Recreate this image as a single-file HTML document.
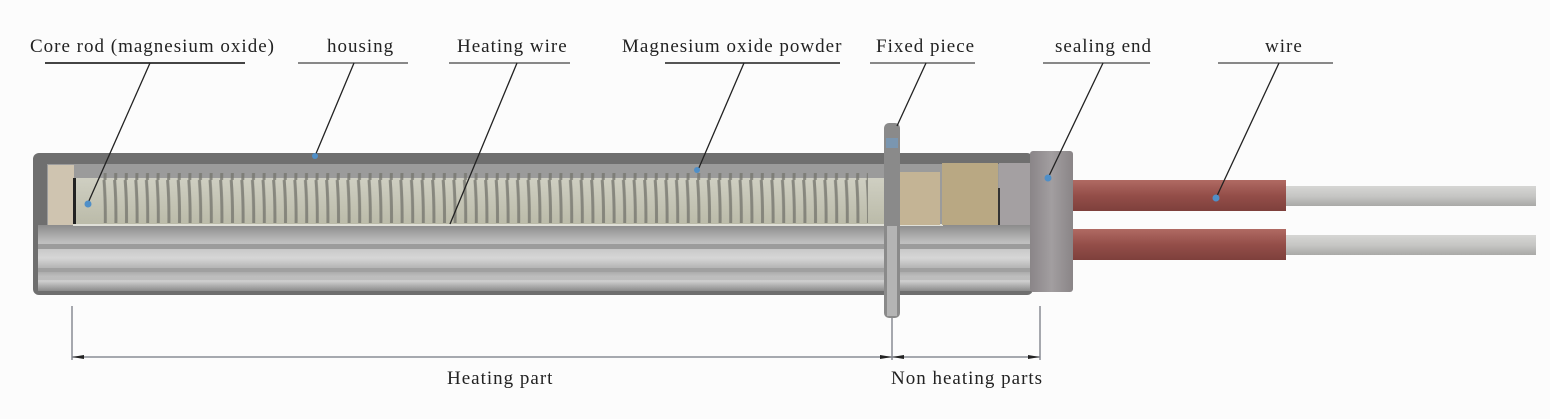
<!DOCTYPE html>
<html><head><meta charset="utf-8"><style>
html,body{margin:0;padding:0;background:#fcfcfc;}
svg{display:block}
text{font-family:"Liberation Serif",serif;font-size:19px;letter-spacing:1px;fill:#222;}
</style></head><body>
<svg width="1550" height="419" viewBox="0 0 1550 419" xmlns="http://www.w3.org/2000/svg">
<defs>
<linearGradient id="tube" x1="0" y1="0" x2="0" y2="1">
<stop offset="0" stop-color="#8c8c8c"/><stop offset="0.25" stop-color="#bdbdbd"/><stop offset="0.5" stop-color="#d6d6d6"/><stop offset="0.7" stop-color="#a9a9a9"/><stop offset="0.85" stop-color="#cfcfcf"/><stop offset="1" stop-color="#8a8a8a"/>
</linearGradient>
<linearGradient id="seal" x1="0" y1="0" x2="1" y2="0">
<stop offset="0" stop-color="#8a8588"/><stop offset="0.5" stop-color="#a29ea0"/><stop offset="1" stop-color="#8a8587"/>
</linearGradient>
<linearGradient id="red" x1="0" y1="0" x2="0" y2="1">
<stop offset="0" stop-color="#b06a63"/><stop offset="0.5" stop-color="#944e49"/><stop offset="1" stop-color="#7e403c"/>
</linearGradient>
<linearGradient id="gw" x1="0" y1="0" x2="0" y2="1">
<stop offset="0" stop-color="#d6d6d4"/><stop offset="0.5" stop-color="#c6c6c4"/><stop offset="1" stop-color="#a9a9a7"/>
</linearGradient>
<linearGradient id="core" x1="0" y1="0" x2="0" y2="1">
<stop offset="0" stop-color="#cfcfc2"/><stop offset="1" stop-color="#babaa8"/>
</linearGradient>
<pattern id="coil" x="100" y="0" width="10.6" height="60" patternUnits="userSpaceOnUse">
<path d="M4 0 Q6 25 5 60" stroke="#77776f" stroke-width="3" fill="none" opacity="0.8"/>
</pattern>
</defs>

<rect x="33" y="153" width="1000" height="142" rx="6" fill="#6f6f6f"/>
<rect x="38" y="225" width="994" height="66" fill="url(#tube)"/>
<rect x="38" y="244" width="994" height="5" fill="#9c9c9c"/>
<rect x="38" y="268" width="994" height="4" fill="#a0a0a0"/>
<rect x="38" y="277" width="994" height="3" fill="#bdbdbd"/>
<rect x="47" y="164" width="983" height="61" fill="#9b9b9b"/>
<rect x="48" y="165" width="26" height="60" fill="#cfc4b0"/>
<rect x="73" y="178" width="830" height="48" fill="url(#core)"/>
<rect x="73" y="178" width="3" height="48" fill="#222"/>
<rect x="98" y="173" width="770" height="50" fill="url(#coil)"/>
<rect x="73" y="224" width="870" height="2" fill="#e0e0d8"/>
<rect x="900" y="172" width="40" height="53" fill="#c4b495"/>
<rect x="942" y="163" width="56" height="62" fill="#b9a883"/>
<rect x="999" y="163" width="31" height="62" fill="#a4a0a2"/>
<rect x="998" y="188" width="2" height="37" fill="#333"/>
<rect x="884" y="123" width="16" height="195" rx="5" fill="#8a8a8a"/>
<rect x="887" y="226" width="10" height="90" fill="#b4b4b4"/>
<rect x="886" y="138" width="12" height="10" fill="#7a96b0"/>
<rect x="1030" y="151" width="43" height="141" rx="3" fill="url(#seal)"/>
<rect x="1286" y="186" width="250" height="20" fill="url(#gw)"/>
<rect x="1286" y="235" width="250" height="20" fill="url(#gw)"/>
<rect x="1073" y="180" width="213" height="31" fill="url(#red)"/>
<rect x="1073" y="229" width="213" height="31" fill="url(#red)"/>

<text x="30" y="52">Core rod (magnesium oxide)</text>
<text x="327" y="52">housing</text>
<text x="457" y="52">Heating wire</text>
<text x="622" y="52">Magnesium oxide powder</text>
<text x="876" y="52">Fixed piece</text>
<text x="1055" y="52">sealing end</text>
<text x="1265" y="52">wire</text>
<g stroke-width="2">
<line x1="45" y1="63" x2="245" y2="63" stroke="#444"/>
<line x1="298" y1="63" x2="408" y2="63" stroke="#888"/>
<line x1="449" y1="63" x2="570" y2="63" stroke="#888"/>
<line x1="665" y1="63" x2="840" y2="63" stroke="#555"/>
<line x1="870" y1="63" x2="975" y2="63" stroke="#888"/>
<line x1="1043" y1="63" x2="1150" y2="63" stroke="#888"/>
<line x1="1218" y1="63" x2="1333" y2="63" stroke="#888"/>
</g>
<g stroke="#222" stroke-width="1.3">
<line x1="150" y1="63" x2="88" y2="203"/>
<line x1="354" y1="63" x2="315" y2="156"/>
<line x1="517" y1="63" x2="450" y2="224"/>
<line x1="744" y1="63" x2="698" y2="170"/>
<line x1="926" y1="63" x2="897" y2="126"/>
<line x1="1103" y1="63" x2="1048" y2="178"/>
<line x1="1279" y1="63" x2="1216" y2="198"/>
</g>
<g fill="#4f8fc8">
<circle cx="88" cy="204" r="3.5"/><circle cx="315" cy="156" r="3"/><circle cx="697" cy="170" r="3"/>
<circle cx="1048" cy="178" r="3.5"/><circle cx="1216" cy="198" r="3.5"/>
</g>

<g stroke="#8a8d95" stroke-width="1.5">
<line x1="72" y1="306" x2="72" y2="360"/>
<line x1="892" y1="318" x2="892" y2="360"/>
<line x1="1040" y1="306" x2="1040" y2="360"/>
<line x1="72" y1="357" x2="1040" y2="357"/>
</g>
<g fill="#222">
<path d="M72 357 l12 -2 v4z"/><path d="M892 357 l-12 -2 v4z"/><path d="M892 357 l12 -2 v4z"/><path d="M1040 357 l-12 -2 v4z"/>
</g>
<text x="447" y="384">Heating part</text>
<text x="891" y="384">Non heating parts</text>
</svg>
</body></html>
